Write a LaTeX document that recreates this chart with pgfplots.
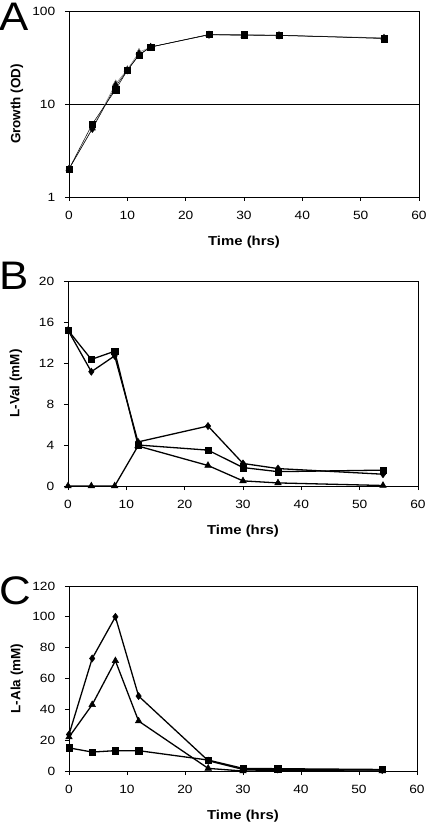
\documentclass[border=0pt]{standalone}
\usepackage{fontspec}
\setmainfont{Liberation Sans}
\usepackage{pgfplots}
\pgfplotsset{compat=1.18}
\pgfplotsset{
  panel/.style={
    scale only axis, width=350bp, anchor=south west,
    xmin=0, xmax=60, xtick={0,10,...,60},
    axis line style={black, line width=0.8pt},
    tick style={black, line width=0.8pt}, tick align=outside, tick pos=left,
    major tick length=4bp,
    ticklabel style={font=\fontsize{12}{14}\selectfont, xscale=1.15},
    x tick label style={yshift=-7bp},
    y tick label style={xshift=-5bp},
    /pgf/number format/assume math mode=true,
    xlabel={Time (hrs)},
    every axis x label/.style={at={([yshift=-45bp]rel axis cs:0.5,0)}, anchor=center, font=\fontsize{13}{15}\selectfont\bfseries, xscale=1.15},
    every axis y label/.style={at={([xshift=-52bp]rel axis cs:0,0.5)}, anchor=center, rotate=90, font=\fontsize{13.5}{15}\selectfont\bfseries},
    clip=false,
  },
  dia/.style={black, line width=1.3pt, mark=diamond*, mark size=3.6bp, mark options={solid, fill=black, line width=0.5pt}},
  sqr/.style={black, line width=1.3pt, mark=square*, mark size=3.2bp, mark options={solid, fill=black, line width=0.5pt}},
  tri/.style={black, line width=1.3pt, mark=triangle*, mark size=3.8bp, mark options={solid, fill=black, line width=0.5pt}},
}
\begin{document}
\begin{tikzpicture}
\useasboundingbox (0bp,0bp) rectangle (428bp,-823bp);
% Panel A
\begin{axis}[panel, at={(69bp,-197bp)}, height=186bp,
  ymode=log, ymin=1, ymax=100, ytick={1,10,100}, yticklabels={1,10,100},
  yminorticks=false, ymajorgrids=true, grid style={black, line width=0.8pt},
  ylabel={Growth (OD)}]
\addplot[tri, line width=0.5pt, draw=gray] coordinates {(0,2)(4,5.5)(8,16.5)(10,23.5)(12,36)(14,41)(24,55.5)(30,54.5)(36,55)(54,51.5)};
\addplot[dia, line width=0.5pt] coordinates {(0,2)(4,5.4)(8,15.5)(10,23)(12,34)(14,41)(24,55.5)(30,55)(36,54.5)(54,51)};
\addplot[sqr, line width=0.5pt] coordinates {(0,2)(4,6.1)(8,14.3)(10,23)(12,33.5)(14,41)(24,56)(30,55.5)(36,55)(54,50.5)};
\end{axis}
\node[anchor=north west, inner sep=0pt, font=\fontsize{40}{40}\selectfont, xscale=1.1] at (-1bp,-3bp) {A};
% Panel B
\begin{axis}[panel, at={(68bp,-486bp)}, height=205bp,
  ymin=0, ymax=20, ytick={0,4,...,20},
  ylabel={L-Val (mM)}]
\addplot[tri] coordinates {(0,0)(4,0)(8,0)(12,3.9)(24,2.0)(30,0.5)(36,0.3)(54,0.05)};
\addplot[dia] coordinates {(0,15.2)(4,11.15)(8,12.7)(12,4.3)(24,5.85)(30,2.2)(36,1.7)(54,1.15)};
\addplot[sqr] coordinates {(0,15.2)(4,12.35)(8,13.15)(12,4.0)(24,3.5)(30,1.8)(36,1.4)(54,1.55)};
\end{axis}
\node[anchor=north west, inner sep=0pt, font=\fontsize{40}{40}\selectfont, xscale=1.1] at (-1bp,-262bp) {B};
% Panel C
\begin{axis}[panel, at={(69bp,-771bp)}, height=185bp, width=348bp,
  ymin=0, ymax=120, ytick={0,20,...,120},
  ylabel={L-Ala (mM)}]
\addplot[tri] coordinates {(0,22)(4,43)(8,71.5)(12,32.4)(24,1.7)(30,0)(36,0.2)(54,0)};
\addplot[dia] coordinates {(0,23.7)(4,73)(8,100)(12,48.6)(24,6.7)(30,1)(36,1)(54,0.6)};
\addplot[sqr] coordinates {(0,15)(4,12.3)(8,13.2)(12,13.2)(24,7.1)(30,1.7)(36,1.5)(54,1)};
\end{axis}
\node[anchor=north west, inner sep=0pt, font=\fontsize{40}{40}\selectfont, xscale=1.1] at (-1bp,-576bp) {C};
\end{tikzpicture}
\end{document}
